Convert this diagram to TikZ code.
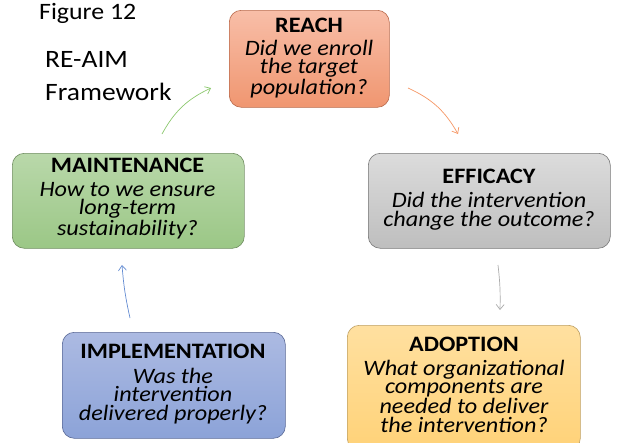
\documentclass[tikz,border=0pt]{standalone}
\usepackage{fontspec}
\setmainfont{Carlito}[FakeStretch=1.1]
\usetikzlibrary{arrows.meta}
\tikzset{
  box/.style={line width=0.6pt, rounded corners=12pt, inner sep=0pt, anchor=north west},
  ttl/.style={font=\fontsize{22}{24}\selectfont\bfseries, anchor=base, inner sep=0pt},
  qst/.style={font=\fontsize{22}{18.5}\selectfont\itshape, anchor=base, align=center, inner sep=0pt},
  conn/.style={line width=0.7pt, -{Straight Barb[length=5pt,width=8pt]}},
}
\begin{document}
\begin{tikzpicture}[x=1pt,y=-1pt]
\useasboundingbox (0,0) rectangle (618,442);
\clip (0,0) rectangle (618,442);
% title
\node[anchor=base west, font=\fontsize{23.5}{24}\selectfont, inner sep=0pt] (fig) at (39,19) {Figure 12};
\node[anchor=base west, font=\fontsize{25}{33}\selectfont, align=left, inner sep=0pt] (fw) at (45,100) {RE-AIM\\Framework};
% boxes
\node[box, minimum width=160pt, minimum height=97pt, top color={rgb,255:red,248;green,190;blue,168}, bottom color={rgb,255:red,240;green,150;blue,112}, draw={rgb,255:red,185;green,105;blue,75}] (reach) at (229,10) {};
\node[ttl] (reachT) at (309,32) {REACH};
\node[qst] (reachQ) at (309,94) {Did we enroll\\the target\\population?};

\node[box, minimum width=232pt, minimum height=95pt, top color={rgb,255:red,185;green,216;blue,170}, bottom color={rgb,255:red,155;green,199;blue,134}, draw={rgb,255:red,110;green,140;blue,95}] (main) at (12,153) {};
\node[ttl] (mainT) at (127.5,172) {MAINTENANCE};
\node[qst] (mainQ) at (127.5,235) {How to we ensure\\long-term\\sustainability?};

\node[box, minimum width=242pt, minimum height=95pt, top color={rgb,255:red,220;green,220;blue,220}, bottom color={rgb,255:red,190;green,190;blue,190}, draw={rgb,255:red,120;green,120;blue,120}] (eff) at (368,153) {};
\node[ttl] (effT) at (489,183) {EFFICACY};
\node[qst] (effQ) at (489,226) {Did the intervention\\change the outcome?};

\node[box, minimum width=223pt, minimum height=106pt, top color={rgb,255:red,172;green,186;blue,226}, bottom color={rgb,255:red,140;green,163;blue,216}, draw={rgb,255:red,90;green,105;blue,150}] (imp) at (62,332) {};
\node[ttl] (impT) at (173,358) {IMPLEMENTATION};
\node[qst] (impQ) at (173,420) {Was the\\intervention\\delivered properly?};

\node[box, minimum width=233pt, minimum height=125pt, top color={rgb,255:red,255;green,224;blue,160}, bottom color={rgb,255:red,255;green,210;blue,120}, draw={rgb,255:red,190;green,160;blue,100}] (ado) at (347,325) {};
\node[ttl] (adoT) at (464,351) {ADOPTION};
\node[qst] (adoQ) at (464,432) {What organizational\\components are\\needed to deliver\\the intervention?};

% connectors
\coordinate (g1) at (162,134); \coordinate (g2) at (211,88);
\coordinate (o1) at (408,88); \coordinate (o2) at (458,134);
\coordinate (k1) at (498,265); \coordinate (k2) at (500,310);
\coordinate (b1) at (130,318); \coordinate (b2) at (122,265);
\draw[conn, draw={rgb,255:red,140;green,200;blue,110}] (g1) to[bend left=18] (g2);
\draw[conn, draw={rgb,255:red,245;green,150;blue,100}] (o1) to[bend left=18] (o2);
\draw[conn, draw={rgb,255:red,170;green,170;blue,170}] (k1) to[bend left=4] (k2);
\draw[conn, draw={rgb,255:red,100;green,140;blue,210}] (b1) to[bend left=4] (b2);
\end{tikzpicture}
\end{document}
